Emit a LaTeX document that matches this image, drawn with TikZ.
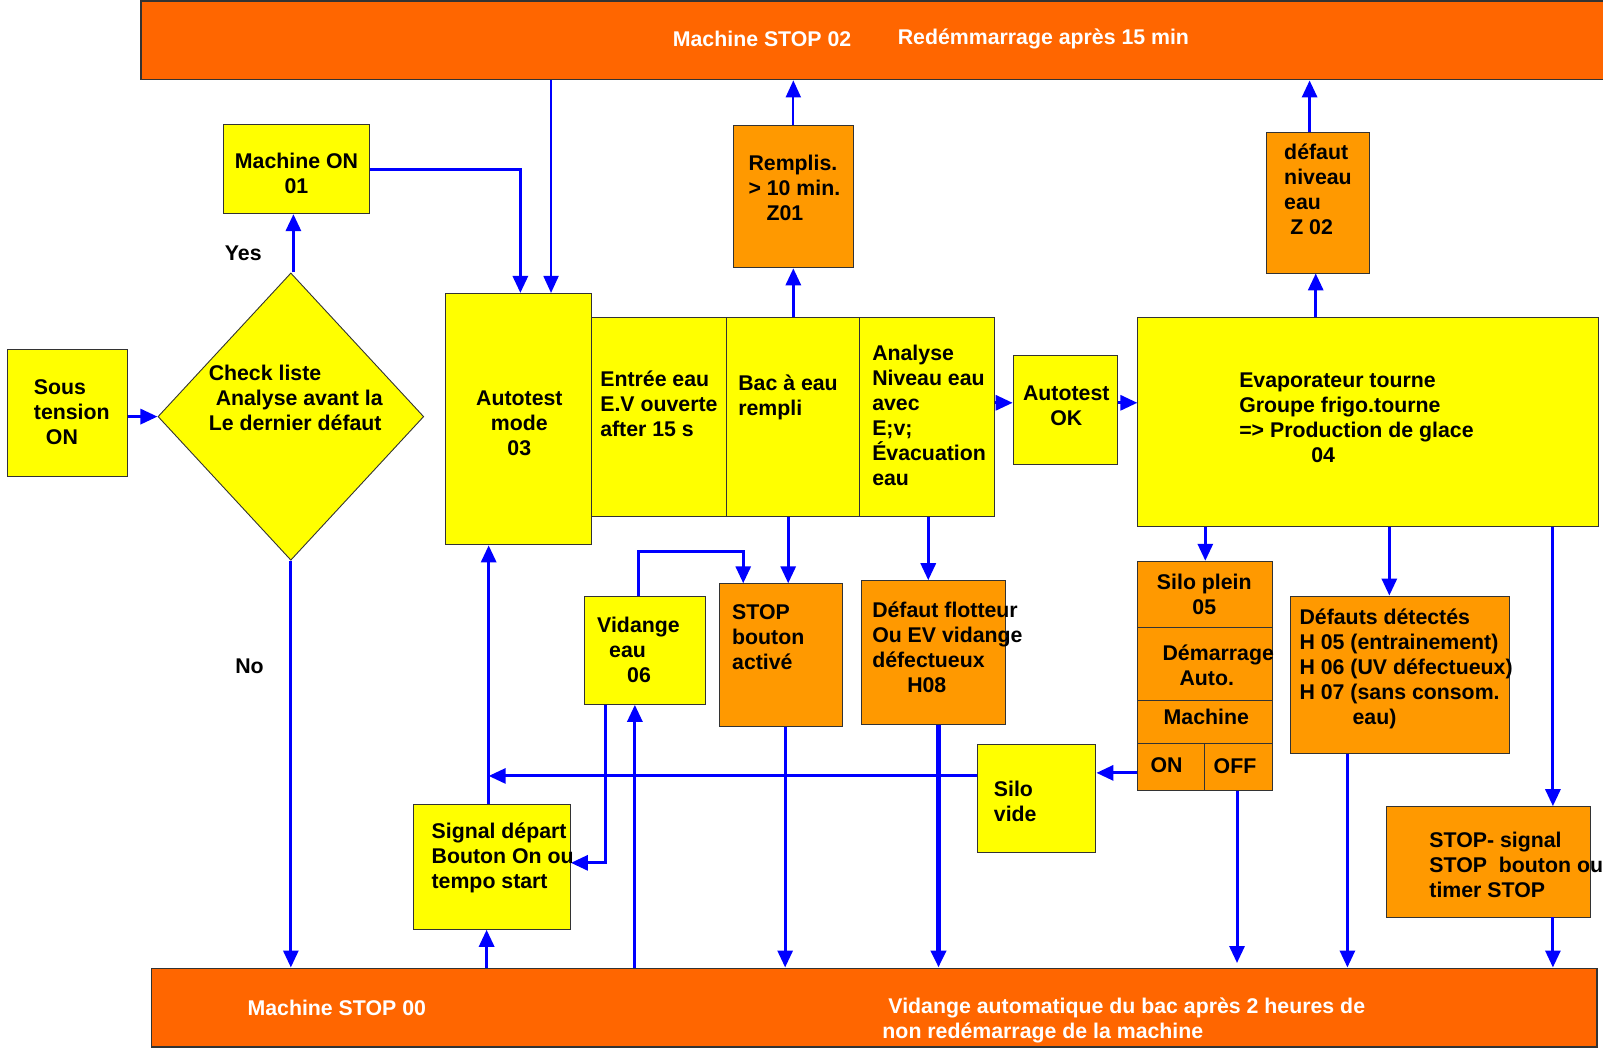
\documentclass[tikz,border=0pt]{standalone}
\usepackage{fontspec}
\setmainfont{Liberation Sans}
\usetikzlibrary{arrows.meta,shapes.geometric,fit}
\definecolor{yel}{HTML}{FFFF00}
\definecolor{org}{HTML}{FF9900}
\definecolor{barc}{HTML}{FF6600}
\definecolor{blu}{HTML}{0000FF}
\definecolor{edgec}{HTML}{333333}
\newcommand\myfnt{\bfseries\fontsize{21.3}{25}\selectfont}
\newcommand\bx[6]{\node[#2, fit={(#3,#4) (#5,#6)}] (#1) {};}
\begin{document}
\begin{tikzpicture}[x=1.0223pt,y=-1.0223pt,
  yb/.style={draw=edgec, line width=0.9pt, fill=yel, inner sep=0pt},
  ob/.style={draw=edgec, line width=0.9pt, fill=org, inner sep=0pt},
  barb/.style={draw=edgec, line width=1.3pt, fill=barc, inner sep=0pt},
  txt/.style={font=\myfnt, inner sep=0pt, align=left, anchor=west},
  ctxt/.style={font=\myfnt, inner sep=0pt, align=center},
  wtxt/.style={txt, text=white},
  arr/.style={draw=blu, line width=3pt, -{Triangle[length=17pt,width=15pt]}}]
\useasboundingbox (0,0) rectangle (1568,1025);
% bars
\bx{top}{barb}{138}{1}{1580}{78}
\bx{bot}{barb}{148}{947}{1562}{1024}
% boxes
\bx{mon}{yb}{219}{122}{361}{209}
\bx{sous}{yb}{7}{342}{125}{466}
\node[diamond, draw=edgec, line width=0.9pt, fill=yel, inner sep=0pt, minimum width=265.8pt, minimum height=287.3pt] (dia) at (284.5,407.5) {};
\bx{auto}{yb}{436}{287}{579}{533}
\bx{entree}{yb}{579}{311}{711}{505}
\bx{bac}{yb}{711}{311}{841}{505}
\bx{analyse}{yb}{841}{311}{973}{505}
\bx{rempl}{ob}{717}{123}{835}{262}
\bx{aok}{yb}{991}{348}{1093}{454}
\bx{evap}{yb}{1113}{311}{1564}{515}
\bx{defniv}{ob}{1239}{130}{1340}{267}
\bx{silo}{ob}{1113}{549}{1245}{614}
\bx{demar}{ob}{1113}{614}{1245}{685}
\bx{mach}{ob}{1113}{685}{1245}{727}
\bx{on}{ob}{1113}{727}{1178}{773}
\bx{off}{ob}{1178}{727}{1245}{773}
\bx{defauts}{ob}{1262}{583}{1476}{737}
\bx{stopsig}{ob}{1356}{789}{1556}{897}
\bx{silov}{yb}{956}{728}{1072}{834}
\bx{signal}{yb}{404}{787}{558}{909}
\bx{vid}{yb}{572}{583}{690}{689}
\bx{stopb}{ob}{704}{571}{824}{711}
\bx{defflot}{ob}{843}{568}{983}{709}
% connectors
\draw[arr] (sous.east |- dia.west) -- (dia.west);
\draw[arr] (dia.north -| 287,0) -- (mon.south -| 287,0);
\draw[arr] (mon.east) -| (auto.north -| 509,0);
\draw[arr, line width=2pt] (top.south -| 539,0) -- (auto.north -| 539,0);
\draw[arr] (bac.north) -- (rempl.south);
\draw[arr, line width=2pt] (rempl.north) -- (rempl.north |- top.south);
\draw[arr] (analyse.east |- 0,394) -- (aok.west |- 0,394);
\draw[arr] (aok.east |- 0,394) -- (evap.west |- 0,394);
\draw[arr] (evap.north -| 1287,0) -- (defniv.south -| 1287,0);
\draw[arr] (defniv.north -| 1281,0) -- (top.south -| 1281,0);
\draw[arr] (evap.south -| silo.north) -- (silo.north);
\draw[arr] (evap.south -| 1359,0) -- (defauts.north -| 1359,0);
\draw[arr] (evap.south -| 1519,0) -- (stopsig.north -| 1519,0);
\draw[arr] (stopsig.south -| 1519,0) -- (bot.north -| 1519,0);
\draw[arr] (defauts.south -| 1318,0) -- (bot.north -| 1318,0);
\coordinate (offend) at (1210,942);
\draw[arr] (off.south -| offend) -- (offend);
\draw[arr] (on.west |- 0,756) -- (silov.east |- 0,756);
\coordinate (j1) at (478,759);
\draw[arr] (silov.west |- j1) -- (j1);
\draw[arr] (bot.north -| 476,0) -- (signal.south -| 476,0);
\draw[arr] (signal.north -| 478,0) -- (auto.south -| 478,0);
\draw[arr] (vid.north -| 625,0) -- (625,539) -| (stopb.north -| 727,0);
\draw[arr] (vid.south -| 592,0) |- (signal.east |- 0,844);
\draw[arr] (bot.north -| 621,0) -- (vid.south -| 621,0);
\draw[arr] (bac.south -| 771,0) -- (stopb.north -| 771,0);
\draw[arr] (stopb.south -| 768,0) -- (bot.north -| 768,0);
\draw[arr] (analyse.south -| 908,0) -- (defflot.north -| 908,0);
\draw[arr, line width=5pt] (defflot.south -| 918,0) -- (bot.north -| 918,0);
\draw[arr] (dia.south) -- (dia.south |- bot.north);
% texts
\node[wtxt] (ttop1) at (658,38.5) {Machine STOP 02};
\node[wtxt] (ttop2) at (878,38.5) {Redémmarrage après 15 min};
\node[ctxt] (tmon) at (290,170) {Machine ON\\01};
\node[ctxt] (tyes) at (238,248) {Yes};
\node[ctxt] (tno) at (244,652) {No};
\node[txt] (tdia) at (204,389.5) {Check liste\\\hspace*{7pt}Analyse avant la\\Le dernier défaut};
\node[txt] (tsous) at (33,403) {Sous\\tension\\\hspace*{12pt}ON};
\node[ctxt] (tauto) at (508,414) {Autotest\\mode\\03};
\node[txt] (tentree) at (587,395) {Entrée eau\\E.V ouverte\\after 15 s};
\node[txt] (tbac) at (722,389) {Bac à eau\\rempli};
\node[txt] (tana) at (853,406.5) {Analyse\\Niveau eau\\avec\\E;v;\\Évacuation\\eau};
\node[txt] (trempl) at (732,183.5) {Remplis.\\> 10 min.\\\hspace*{18pt}Z01};
\node[ctxt] (taok) at (1043,397) {Autotest\\OK};
\node[txt] (tevap) at (1212,409) {Evaporateur tourne\\Groupe frigo.tourne\\=> Production de glace\\\hspace*{72pt}04};
\node[txt] (tdefniv) at (1256,185.5) {défaut\\niveau\\eau\\\hspace*{6pt}Z 02};
\node[ctxt] (tsilo) at (1178,581.5) {Silo plein\\05};
\node[txt] (tdemar) at (1137,650.5) {Démarrage\\\hspace*{17pt}Auto.};
\node[ctxt] (tmach) at (1180,701.5) {Machine};
\node[ctxt] (ton) at (1141,748.5) {ON};
\node[ctxt] (toff) at (1208,749.5) {OFF};
\node[txt] (tdefauts) at (1271,654) {Défauts détectés\\H 05 (entrainement)\\H 06 (UV défectueux)\\H 07 (sans consom.\\\hspace*{53pt}eau)};
\node[txt] (tstop) at (1398,846) {STOP- signal\\STOP\hspace*{6pt} bouton ou\\timer STOP};
\node[wtxt] (tbot1) at (242,985.5) {Machine STOP 00};
\node[wtxt] (tbot2) at (863,998) {\hspace*{6pt}Vidange automatique du bac après 2 heures de\\non redémarrage de la machine};
\node[txt] (tsilov) at (972,784) {Silo\\vide};
\node[txt] (tsignal) at (422,839) {Signal départ\\Bouton On ou\\tempo start};
\node[txt] (tvid) at (584,635.5) {Vidange\\\hspace*{12pt}eau\\\hspace*{30pt}06};
\node[txt] (tstopb) at (716,623.5) {STOP\\bouton\\activé};
\node[txt] (tdefflot) at (853,633.5) {Défaut flotteur\\Ou EV vidange\\défectueux\\\hspace*{35pt}H08};
\end{tikzpicture}
\end{document}
